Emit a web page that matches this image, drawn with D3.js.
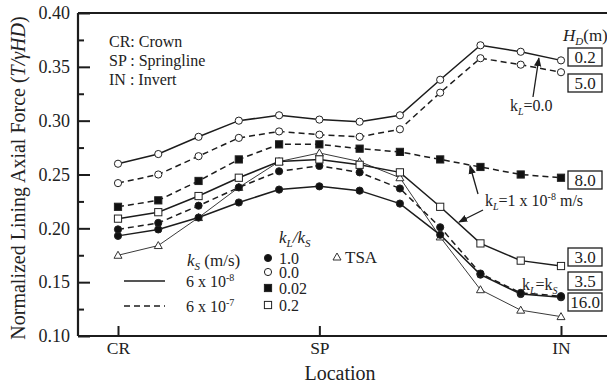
<!DOCTYPE html>
<html>
<head>
	<script type="text/javascript" src="https://cdn.jsdelivr.net/npm/d3@7/dist/d3.min.js"></script>
	<style type="text/css">
		body { margin: 0; background: #fff; }
		text { font-family: "Liberation Serif", "Times New Roman", serif; fill: #222; }
		.series { fill: none; stroke: #1c1c1c; stroke-width: 1.5px; }
		.axis path { display: none; }
		.axis line { stroke: #1c1c1c; stroke-width: 2px; }
		.frame { stroke: #1c1c1c; stroke-width: 2.2px; }
	</style>
</head>
<body>
<script type="text/javascript">

var width = 607,
	height = 385,
	plotLeft = 78, plotRight = 607, plotTop = 13, plotBottom = 336;

// location index along the lining, crown -> springline -> invert
var positions = [0, 1, 2, 3, 4, 5, 6, 7, 8, 9, 10, 11];
var xTickIndex = [0, 5, 11];
var xTickLabels = ["CR", "SP", "IN"];
var yTicks = [0.10, 0.15, 0.20, 0.25, 0.30, 0.35, 0.40];
var yMinorTicks = [0.125, 0.175, 0.225, 0.275, 0.325, 0.375];

// normalized axial force T/(gamma H D)
var ks6e8Ratio0 = [0.260, 0.269, 0.285, 0.300, 0.305, 0.301, 0.299, 0.305, 0.338, 0.370, 0.364, 0.356];
var ks6e7Ratio0 = [0.242, 0.250, 0.267, 0.284, 0.290, 0.287, 0.285, 0.292, 0.326, 0.358, 0.352, 0.345];
var ks6e7Ratio002 = [0.220, 0.226, 0.244, 0.264, 0.278, 0.278, 0.274, 0.271, 0.264, 0.257, 0.250, 0.247];
var ks6e8Ratio02 = [0.209, 0.215, 0.230, 0.247, 0.262, 0.264, 0.259, 0.252, 0.220, 0.186, 0.170, 0.165];
var ks6e7Ratio1 = [0.199, 0.205, 0.221, 0.238, 0.253, 0.258, 0.252, 0.237, 0.201, 0.158, 0.140, 0.137];
var ks6e8Ratio1 = [0.193, 0.199, 0.210, 0.224, 0.236, 0.239, 0.235, 0.223, 0.194, 0.157, 0.139, 0.136];
var tsaValues = [0.175, 0.184, 0.210, 0.238, 0.262, 0.270, 0.262, 0.247, 0.192, 0.143, 0.124, 0.118];

// H_D labels at the right end
var hdLabels = ["0.2", "5.0", "8.0", "3.0", "3.5", "16.0"];
var hdLabelY = [57, 83, 180, 257, 281, 302];

var series = [
	{ values: tsaValues, dash: null, marker: "triangle", thin: true },
	{ values: ks6e8Ratio1, dash: null, marker: "filledCircle" },
	{ values: ks6e7Ratio1, dash: "6,4", marker: "filledCircle" },
	{ values: ks6e8Ratio02, dash: null, marker: "openSquare" },
	{ values: ks6e7Ratio002, dash: "6,4", marker: "filledSquare" },
	{ values: ks6e7Ratio0, dash: "6,4", marker: "openCircle" },
	{ values: ks6e8Ratio0, dash: null, marker: "openCircle" }
];

var x = d3.scaleLinear().domain([0, 11]).range([118, 561]);
var y = d3.scaleLinear().domain([0.10, 0.40]).range([plotBottom, plotTop]);

var svg = d3.select("body").append("svg")
	.attr("width", width)
	.attr("height", height);

var defs = svg.append("defs");
defs.append("marker")
	.attr("id", "head")
	.attr("viewBox", "0 0 10 10")
	.attr("refX", 9).attr("refY", 5)
	.attr("markerWidth", 7).attr("markerHeight", 7)
	.attr("orient", "auto")
  .append("path")
	.attr("d", "M0,1 L10,5 L0,9 Z")
	.attr("fill", "#1c1c1c");

// frame: top, left, bottom
svg.append("line").attr("class", "frame").attr("x1", plotLeft).attr("x2", plotRight).attr("y1", plotTop).attr("y2", plotTop);
svg.append("line").attr("class", "frame").attr("x1", plotLeft).attr("x2", plotRight).attr("y1", plotBottom).attr("y2", plotBottom);
svg.append("line").attr("class", "frame").attr("x1", plotLeft).attr("x2", plotLeft).attr("y1", plotTop).attr("y2", plotBottom);

var yAxis = svg.append("g")
	.attr("class", "axis")
	.attr("transform", "translate(" + plotLeft + ",0)")
	.call(d3.axisLeft(y).tickValues(yTicks).tickSizeInner(-12).tickSizeOuter(0).tickPadding(8)
		.tickFormat(d3.format(".2f")));
yAxis.selectAll("text").style("font-size", "18px").attr("fill", "#333");

svg.append("g")
	.attr("class", "axis")
	.attr("transform", "translate(" + plotLeft + ",0)")
	.call(d3.axisLeft(y).tickValues(yMinorTicks).tickSizeInner(-6).tickSizeOuter(0).tickFormat(""));

var xAxis = svg.append("g")
	.attr("class", "axis")
	.attr("transform", "translate(0," + plotBottom + ")")
	.call(d3.axisBottom(x).tickValues(xTickIndex).tickSizeInner(-10).tickSizeOuter(0).tickPadding(6)
		.tickFormat(function(d, i) { return xTickLabels[i]; }));
xAxis.selectAll("text").style("font-size", "17.5px").attr("fill", "#333");

// axis titles
var yTitle = svg.append("text")
	.attr("transform", "translate(25,178) rotate(-90)")
	.attr("text-anchor", "middle")
	.style("font-size", "20px");
yTitle.append("tspan").text("Normalized Lining Axial Force (");
yTitle.append("tspan").style("font-style", "italic").text("T/γHD");
yTitle.append("tspan").text(")");

svg.append("text")
	.attr("x", 340).attr("y", 380)
	.attr("text-anchor", "middle")
	.style("font-size", "20px")
	.text("Location");

// data lines
var line = d3.line()
	.x(function(d, i) { return x(positions[i]); })
	.y(function(d) { return y(d); });

svg.append("g").selectAll("path")
	.data(series)
  .enter().append("path")
	.attr("class", "series")
	.attr("d", function(s) { return line(s.values); })
	.attr("stroke-dasharray", function(s) { return s.dash; })
	.style("stroke-width", function(s) { return s.thin ? "1px" : "1.5px"; })
	.style("stroke", function(s) { return s.thin ? "#3a3a3a" : "#1c1c1c"; });

function drawMarker(g, type, cx, cy) {
	if (type === "filledCircle" || type === "openCircle") {
		g.append("circle")
			.attr("cx", cx).attr("cy", cy).attr("r", 3.6)
			.attr("fill", type === "filledCircle" ? "#111" : "#fff")
			.attr("stroke", "#222").attr("stroke-width", 1);
	} else if (type === "filledSquare" || type === "openSquare") {
		g.append("rect")
			.attr("x", cx - 3.6).attr("y", cy - 3.6).attr("width", 7.2).attr("height", 7.2)
			.attr("fill", type === "filledSquare" ? "#111" : "#fff")
			.attr("stroke", "#222").attr("stroke-width", 1);
	} else {
		g.append("path")
			.attr("d", "M" + cx + "," + (cy - 4) + " L" + (cx + 4) + "," + (cy + 3) + " L" + (cx - 4) + "," + (cy + 3) + " Z")
			.attr("fill", "#fff").attr("stroke", "#333").attr("stroke-width", 1);
	}
}

var markers = svg.append("g");
series.forEach(function(s) {
	s.values.forEach(function(v, i) {
		drawMarker(markers, s.marker, x(positions[i]), y(v));
	});
});

// location key
var key = svg.append("g").style("font-size", "16px");
key.append("text").attr("x", 109).attr("y", 47).text("CR: Crown");
key.append("text").attr("x", 109).attr("y", 66).text("SP : Springline");
key.append("text").attr("x", 109).attr("y", 85).text("IN : Invert");

// legend: k_S line styles
var ksTitle = svg.append("text").attr("x", 187).attr("y", 266).style("font-size", "17px");
ksTitle.append("tspan").style("font-style", "italic").text("k");
ksTitle.append("tspan").attr("dy", 4).style("font-size", "11px").style("font-style", "italic").text("S");
ksTitle.append("tspan").attr("dy", -4).text(" (m/s)");

svg.append("line").attr("class", "series").attr("x1", 124).attr("x2", 165).attr("y1", 281).attr("y2", 281);
svg.append("line").attr("class", "series").attr("x1", 124).attr("x2", 165).attr("y1", 306).attr("y2", 306)
	.attr("stroke-dasharray", "6,4");

function powerLabel(xp, yp, mant, exp) {
	var t = svg.append("text").attr("x", xp).attr("y", yp).style("font-size", "16px");
	t.append("tspan").text(mant + " x 10");
	t.append("tspan").attr("dy", -6).style("font-size", "10px").text(exp);
	return t;
}
powerLabel(186, 287, "6", "-8");
powerLabel(186, 312, "6", "-7");

// legend: k_L/k_S markers
var ratioTitle = svg.append("text").attr("x", 279).attr("y", 243).style("font-size", "17px").style("font-style", "italic");
ratioTitle.append("tspan").text("k");
ratioTitle.append("tspan").attr("dy", 4).style("font-size", "11px").text("L");
ratioTitle.append("tspan").attr("dy", -4).text("/k");
ratioTitle.append("tspan").attr("dy", 4).style("font-size", "11px").text("S");

var ratioKeys = [
	{ marker: "filledCircle", label: "1.0", y: 258 },
	{ marker: "openCircle", label: "0.0", y: 272 },
	{ marker: "filledSquare", label: "0.02", y: 288 },
	{ marker: "openSquare", label: "0.2", y: 305 }
];
ratioKeys.forEach(function(k) {
	drawMarker(svg, k.marker, 268, k.y);
	svg.append("text").attr("x", 279).attr("y", k.y + 5.5).style("font-size", "16px").text(k.label);
});
drawMarker(svg, "triangle", 337, 257);
svg.append("text").attr("x", 345).attr("y", 263).style("font-size", "17px").text("TSA");

// H_D boxes
var hdTitle = svg.append("text").attr("x", 563).attr("y", 41).style("font-size", "17px");
hdTitle.append("tspan").style("font-style", "italic").text("H");
hdTitle.append("tspan").attr("dy", 4).style("font-size", "11px").style("font-style", "italic").text("D");
hdTitle.append("tspan").attr("dy", -4).text("(m)");

var boxes = svg.append("g").selectAll("g")
	.data(hdLabels)
  .enter().append("g")
	.attr("transform", function(d, i) { return "translate(585," + hdLabelY[i] + ")"; });
boxes.append("rect")
	.attr("x", -17).attr("y", -9).attr("width", 34).attr("height", 18)
	.attr("fill", "#fff").attr("stroke", "#1c1c1c").attr("stroke-width", 1.3);
boxes.append("text")
	.attr("text-anchor", "middle").attr("dy", "0.35em")
	.style("font-size", "17px")
	.text(function(d) { return d; });

// annotations
function kLabel(xp, yp, rest) {
	var t = svg.append("text").attr("x", xp).attr("y", yp).style("font-size", "16px");
	t.append("tspan").text("k");
	t.append("tspan").attr("dy", 4).style("font-size", "10px").style("font-style", "italic").text("L");
	t.append("tspan").attr("dy", -4).text(rest);
	return t;
}
kLabel(510, 111, "=0.0");
var k1 = kLabel(485, 206, "=1 x 10");
k1.append("tspan").attr("dy", -6).style("font-size", "10px").text("-8");
k1.append("tspan").attr("dy", 6).text(" m/s");
var ks = kLabel(522, 290, "=k");
ks.append("tspan").attr("dy", 4).style("font-size", "10px").style("font-style", "italic").text("S");

function arrow(x1, y1, x2, y2) {
	svg.append("line")
		.attr("x1", x1).attr("y1", y1).attr("x2", x2).attr("y2", y2)
		.attr("stroke", "#1c1c1c").attr("stroke-width", 1.3)
		.attr("marker-end", "url(#head)");
}
arrow(533, 97, x(10.5) - 2, y(0.360) + 2);
arrow(478, 194, 470, y(0.260) + 2);
arrow(483, 210, 459, 222);

</script>
</body>
</html>
